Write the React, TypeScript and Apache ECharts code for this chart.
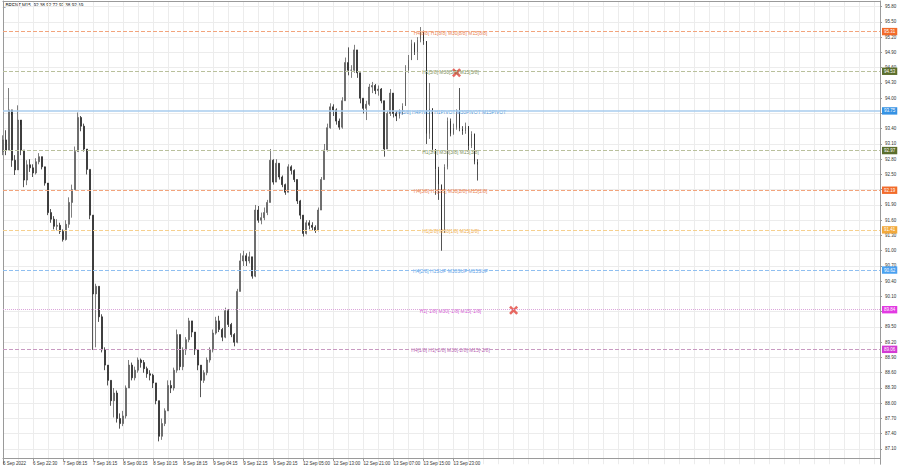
import React, { useEffect, useRef } from "react";
import * as echarts from "echarts";

// ---------- data ----------
const chartTitle = "_BRENT,M15  92.38 92.72 92.38 92.69";

const timeLabels = [
  "6 Sep 2022", "6 Sep 22:30", "7 Sep 08:15", "7 Sep 16:15", "8 Sep 00:15",
  "8 Sep 10:15", "8 Sep 18:15", "9 Sep 04:15", "9 Sep 12:15", "9 Sep 20:15",
  "12 Sep 05:00", "12 Sep 13:00", "12 Sep 21:00", "13 Sep 07:00", "13 Sep 15:00",
  "13 Sep 23:00",
];
const slotsPerLabel = 10;
const totalSlots = 293;

const firstOpen = 92.95;
const closes = [
  93.18, 92.98, 93.77, 92.78, 92.59, 93.57, 92.98, 92.39, 92.69, 92.63,
  92.53, 92.75, 92.85, 92.65, 92.33, 91.75, 91.62, 91.48, 91.5, 91.38,
  91.22, 91.52, 91.95, 92.2, 92.95, 93.62, 93.45, 93.0, 92.6, 91.7,
  90.15, 90.3, 89.7, 89.05, 88.75, 88.45, 88.05, 88.2, 87.7, 87.6,
  87.75, 88.3, 88.75, 88.5, 88.65, 88.85, 88.8, 88.68, 88.58, 88.55,
  88.4, 88.05, 87.35, 87.6, 87.85, 88.35, 88.3, 88.65, 89.35, 88.72,
  89.05, 89.25, 89.62, 89.4, 89.05, 88.75, 88.45, 88.6, 88.85, 89.05,
  89.38, 89.62, 89.45, 89.3, 89.82, 89.55, 89.35, 89.2, 90.2, 90.8,
  90.9, 90.8, 90.88, 90.5, 91.8, 91.6, 91.65, 91.75, 91.95, 92.78,
  92.35, 92.72, 92.45, 92.3, 92.15, 92.65, 92.58, 92.4, 91.98, 91.7,
  91.34, 91.55, 91.5, 91.46, 91.4, 91.8, 92.4, 92.98, 93.42, 93.83,
  93.77, 93.55, 93.43, 93.95, 94.7, 94.55, 94.55, 94.95, 94.5, 94.0,
  93.8, 93.88, 94.22, 94.25, 94.15, 94.18, 93.95, 93.0, 93.7, 94.1,
  93.7, 93.65, 93.72, 93.85, 94.55, 94.75, 95.08, 94.9, 95.15, 95.3,
  95.12, 93.3, 93.8, 93.0, 92.6, 92.3, 91.4, 92.65, 93.55, 93.3,
  93.42, 93.7, 93.4, 93.35, 93.45, 93.05, 93.3, 92.75, 92.69,
];
const highs = [
  93.27, 93.37, 94.2, 93.67, 92.88, 93.86, 93.47, 92.98, 92.78, 92.8,
  92.7, 92.82, 92.92, 92.85, 92.62, 92.3, 91.82, 91.68, 91.62, 91.55,
  91.42, 91.6, 92.05, 92.3, 93.05, 93.72, 93.65, 93.5, 93.0, 92.6,
  91.7, 90.35, 90.3, 89.75, 89.1, 88.75, 88.45, 88.3, 88.25, 87.8,
  87.85, 88.35, 88.85, 88.8, 88.72, 88.9, 88.88, 88.85, 88.72, 88.65,
  88.58, 88.4, 88.05, 87.7, 87.9, 88.45, 88.45, 88.7, 89.45, 89.35,
  89.1, 89.3, 89.68, 89.62, 89.4, 89.05, 88.75, 88.65, 88.9, 89.1,
  89.45, 89.7, 89.72, 89.48, 89.88, 89.85, 89.58, 89.38, 90.25, 90.95,
  91.0, 90.95, 90.98, 90.88, 91.9, 91.88, 91.75, 91.85, 92.0, 93.0,
  92.8, 92.8, 92.72, 92.48, 92.32, 92.7, 92.68, 92.6, 92.4, 92.0,
  91.7, 91.6, 91.6, 91.56, 91.5, 91.85, 92.45, 93.1, 93.5, 93.9,
  93.88, 93.8, 93.6, 94.02, 94.8, 95.0, 94.65, 95.05, 94.95, 94.5,
  94.0, 93.95, 94.28, 94.32, 94.28, 94.25, 94.2, 93.95, 93.75, 94.18,
  94.1, 93.75, 93.78, 93.9, 94.65, 94.85, 95.15, 95.1, 95.2, 95.4,
  95.33, 95.1, 94.3, 93.8, 93.0, 92.65, 92.3, 92.7, 93.62, 93.6,
  93.5, 93.78, 94.2, 93.45, 93.52, 93.45, 93.35, 93.25, 92.8,
];
const lows = [
  92.88, 92.88, 92.98, 92.65, 92.49, 92.59, 92.88, 92.25, 92.29, 92.55,
  92.45, 92.5, 92.7, 92.6, 92.28, 91.7, 91.55, 91.42, 91.4, 91.33,
  91.18, 91.2, 91.45, 91.65, 92.2, 92.95, 93.35, 92.95, 92.5, 91.62,
  89.05, 89.1, 89.6, 89.0, 88.65, 88.35, 87.95, 87.72, 87.62, 87.5,
  87.55, 87.7, 88.3, 88.45, 88.45, 88.6, 88.7, 88.6, 88.5, 88.45,
  88.3, 87.98, 87.25, 87.28, 87.55, 87.85, 88.2, 88.25, 88.6, 88.65,
  88.65, 88.95, 89.2, 89.3, 88.95, 88.65, 88.12, 88.4, 88.55, 88.8,
  89.0, 89.35, 89.4, 89.22, 89.28, 89.5, 89.3, 89.12, 89.18, 90.2,
  90.7, 90.7, 90.75, 90.45, 90.48, 91.55, 91.52, 91.6, 91.7, 91.95,
  92.3, 92.35, 92.4, 92.25, 92.1, 92.15, 92.5, 92.35, 91.92, 91.62,
  91.28, 91.32, 91.42, 91.4, 91.35, 91.38, 91.8, 92.4, 92.95, 93.4,
  93.65, 93.48, 93.38, 93.4, 93.95, 94.45, 94.4, 94.5, 94.4, 93.9,
  93.7, 93.57, 93.85, 94.1, 94.08, 94.05, 93.9, 92.85, 93.0, 93.65,
  93.62, 93.55, 93.6, 93.68, 93.85, 94.5, 94.75, 94.85, 94.75, 95.1,
  95.05, 93.1, 93.2, 92.95, 92.1, 92.0, 91.0, 91.35, 92.6, 93.25,
  93.28, 93.38, 93.35, 93.28, 93.3, 92.98, 93.02, 92.7, 92.38,
];

const levelPrices = [95.31, 94.53, 93.75, 92.97, 92.19, 91.41, 90.62, 89.84, 89.06];
const levelTexts = [
  "H4[8/8] H1[8/8] M30[8/8] M15[8/8]",
  "H1[5/8] M30[5/8] M15[5/8]",
  "H4[5/8] H4PIVOT H1PIVOT M30PIVOT M15PIVOT",
  "H1[3/8] M30[3/8] M15[3/8]",
  "H4[3/8] H1[2/8] M30[2/8] M15[2/8]",
  "H1[1/8] M30[1/8] M15[1/8]",
  "H4[2/8] H1SUP M30SUP M15SUP",
  "H1[-1/8] M30[-1/8] M15[-1/8]",
  "H4[1/8] H1[-2/8] M30[-2/8] M15[-2/8]",
];
const levelTextSlot = 149;
const currentPrice = 92.69;
const crossMarks = [
  [151, 94.5],
  [170, 89.83],
];

// ---------- styles ----------
const levelStyles = [
  { line: "#f2a47c", type: "dashed", width: 1, text: "#e25a20", box: "#f26b2a" },
  { line: "#b9c09c", type: "dashed", width: 1, text: "#56701f", box: "#5b6e2c" },
  { line: "#a9cdee", type: "solid", width: 1.5, text: "#2481d4", box: "#3592e4" },
  { line: "#b9c09c", type: "dashed", width: 1, text: "#56701f", box: "#5b6e2c" },
  { line: "#f2a47c", type: "dashed", width: 1, text: "#e25a20", box: "#f26b2a" },
  { line: "#f6d08e", type: "dashed", width: 1, text: "#e89414", box: "#f2a93b" },
  { line: "#8fbff0", type: "dashed", width: 1, text: "#2f86e0", box: "#4aa1f0" },
  { line: "#dba5db", type: "dotted", width: 1, text: "#cc2ccc", box: "#e23ae2" },
  { line: "#c99ac2", type: "dashed", width: 1, text: "#a32e9b", box: "#d43ad4" },
];

const FONT = "Liberation Sans";
const AXIS_COLOR = "#9a9a9a";
const GRID_COLOR = "#ececec";
const Y_MIN = 86.8;
const Y_MAX = 95.912;

export default function App() {
  const ref = useRef<HTMLDivElement>(null);

  useEffect(() => {
    if (!ref.current) return;
    const chart = echarts.init(ref.current, undefined, { renderer: "svg" });

    const slotNames = Array.from({ length: totalSlots }, (_, i) => "s" + i);
    const candles = closes.map((c, i) => [
      i === 0 ? firstOpen : closes[i - 1],
      c,
      lows[i],
      highs[i],
    ]);
    const isLabelSlot = (i: number) =>
      i % slotsPerLabel === 0 && i / slotsPerLabel < timeLabels.length;
    const boxValues = [...levelPrices, currentPrice];
    const tickHidden = (v: number) =>
      boxValues.some((b) => Math.abs(b - v) < 0.06);

    const boxLabel = (p: number, bg: string) => ({
      show: true,
      position: "end",
      formatter: p.toFixed(2),
      backgroundColor: bg,
      color: "#ffffff",
      fontSize: 4.5,
      fontFamily: FONT,
      padding: [1.2, 2],
      distance: 2,
    });

    const markLineData: any[] = levelPrices.map((p, k) => ({
      yAxis: p,
      lineStyle: {
        color: levelStyles[k].line,
        type: levelStyles[k].type,
        width: levelStyles[k].width,
      },
      label: boxLabel(p, levelStyles[k].box),
    }));
    markLineData.push({
      yAxis: currentPrice,
      lineStyle: { opacity: 0 },
      label: boxLabel(currentPrice, "#000000"),
    });

    const option: any = {
      animation: false,
      backgroundColor: "#ffffff",
      textStyle: { fontFamily: FONT },
      grid: { left: 0.5, right: 20, top: 1, bottom: 3.75, containLabel: false },
      graphic: [
        {
          type: "text",
          left: 3,
          top: 3,
          style: { text: chartTitle, fontSize: 4.6, fontFamily: FONT, fill: "#222" },
        },
      ],
      xAxis: [
        {
          type: "category",
          data: slotNames,
          boundaryGap: false,
          offset: -6.3,
          axisLine: { show: true, lineStyle: { color: AXIS_COLOR } },
          axisTick: {
            show: true,
            interval: (i: number) => isLabelSlot(i),
            length: 3,
            lineStyle: { color: AXIS_COLOR },
          },
          axisLabel: {
            interval: (i: number) => isLabelSlot(i),
            formatter: (_v: string, i: number) =>
              isLabelSlot(i) ? timeLabels[i / slotsPerLabel] : "",
            align: "left",
            fontSize: 4.5,
            fontFamily: FONT,
            color: "#333",
            margin: 3,
          },
          splitLine: {
            show: true,
            interval: (i: number) => i % (slotsPerLabel / 2) === 0,
            lineStyle: { color: GRID_COLOR, width: 1 },
          },
        },
        {
          type: "category",
          data: slotNames,
          boundaryGap: false,
          position: "top",
          axisLine: { show: true, lineStyle: { color: AXIS_COLOR } },
          axisTick: { show: false },
          axisLabel: { show: false },
          splitLine: { show: false },
        },
      ],
      yAxis: [
        {
          type: "value",
          position: "right",
          min: Y_MIN,
          max: Y_MAX,
          interval: 0.3,
          axisLine: { show: true, lineStyle: { color: AXIS_COLOR } },
          axisTick: { show: true, length: 2, lineStyle: { color: AXIS_COLOR } },
          axisLabel: {
            formatter: (v: number) => (tickHidden(v) ? "" : v.toFixed(2)),
            fontSize: 4.5,
            fontFamily: FONT,
            color: "#333",
            margin: 5,
            showMinLabel: false,
            showMaxLabel: false,
          },
          splitLine: {
            show: true,
            showMinLine: false,
            lineStyle: { color: GRID_COLOR, width: 1 },
          },
        },
        {
          type: "value",
          position: "left",
          min: Y_MIN,
          max: Y_MAX,
          axisLine: { show: true, lineStyle: { color: AXIS_COLOR } },
          axisTick: { show: false },
          axisLabel: { show: false },
          splitLine: { show: false },
        },
      ],
      series: [
        {
          type: "candlestick",
          name: "BRENT",
          data: candles,
          barWidth: 1.4,
          itemStyle: {
            color: "#5e5e5e",
            color0: "#2a2a2a",
            borderColor: "#5e5e5e",
            borderColor0: "#2a2a2a",
            borderWidth: 0.8,
          },
          markLine: {
            silent: true,
            symbol: ["none", "none"],
            animation: false,
            data: markLineData,
          },
        },
        {
          type: "scatter",
          name: "levels",
          symbolSize: 0,
          silent: true,
          data: levelPrices.map((p, k) => ({
            value: [levelTextSlot, p],
            label: {
              show: true,
              position: "inside",
              formatter: levelTexts[k],
              color: levelStyles[k].text,
              fontSize: 4.9,
              fontFamily: FONT,
              offset: [0, 1.5],
            },
          })),
        },
        {
          type: "scatter",
          name: "marks",
          silent: true,
          symbol:
            "path://M2,0 L5,3 L8,0 L10,2 L7,5 L10,8 L8,10 L5,7 L2,10 L0,8 L3,5 L0,2 Z",
          symbolSize: 9,
          itemStyle: { color: "#e2453c" },
          data: crossMarks,
        },
      ],
    };

    chart.setOption(option);
    return () => chart.dispose();
  }, []);

  return (
    <div
      ref={ref}
      style={{ position: "fixed", left: 0, top: 0, width: 900, height: 468, background: "#fff" }}
    />
  );
}
